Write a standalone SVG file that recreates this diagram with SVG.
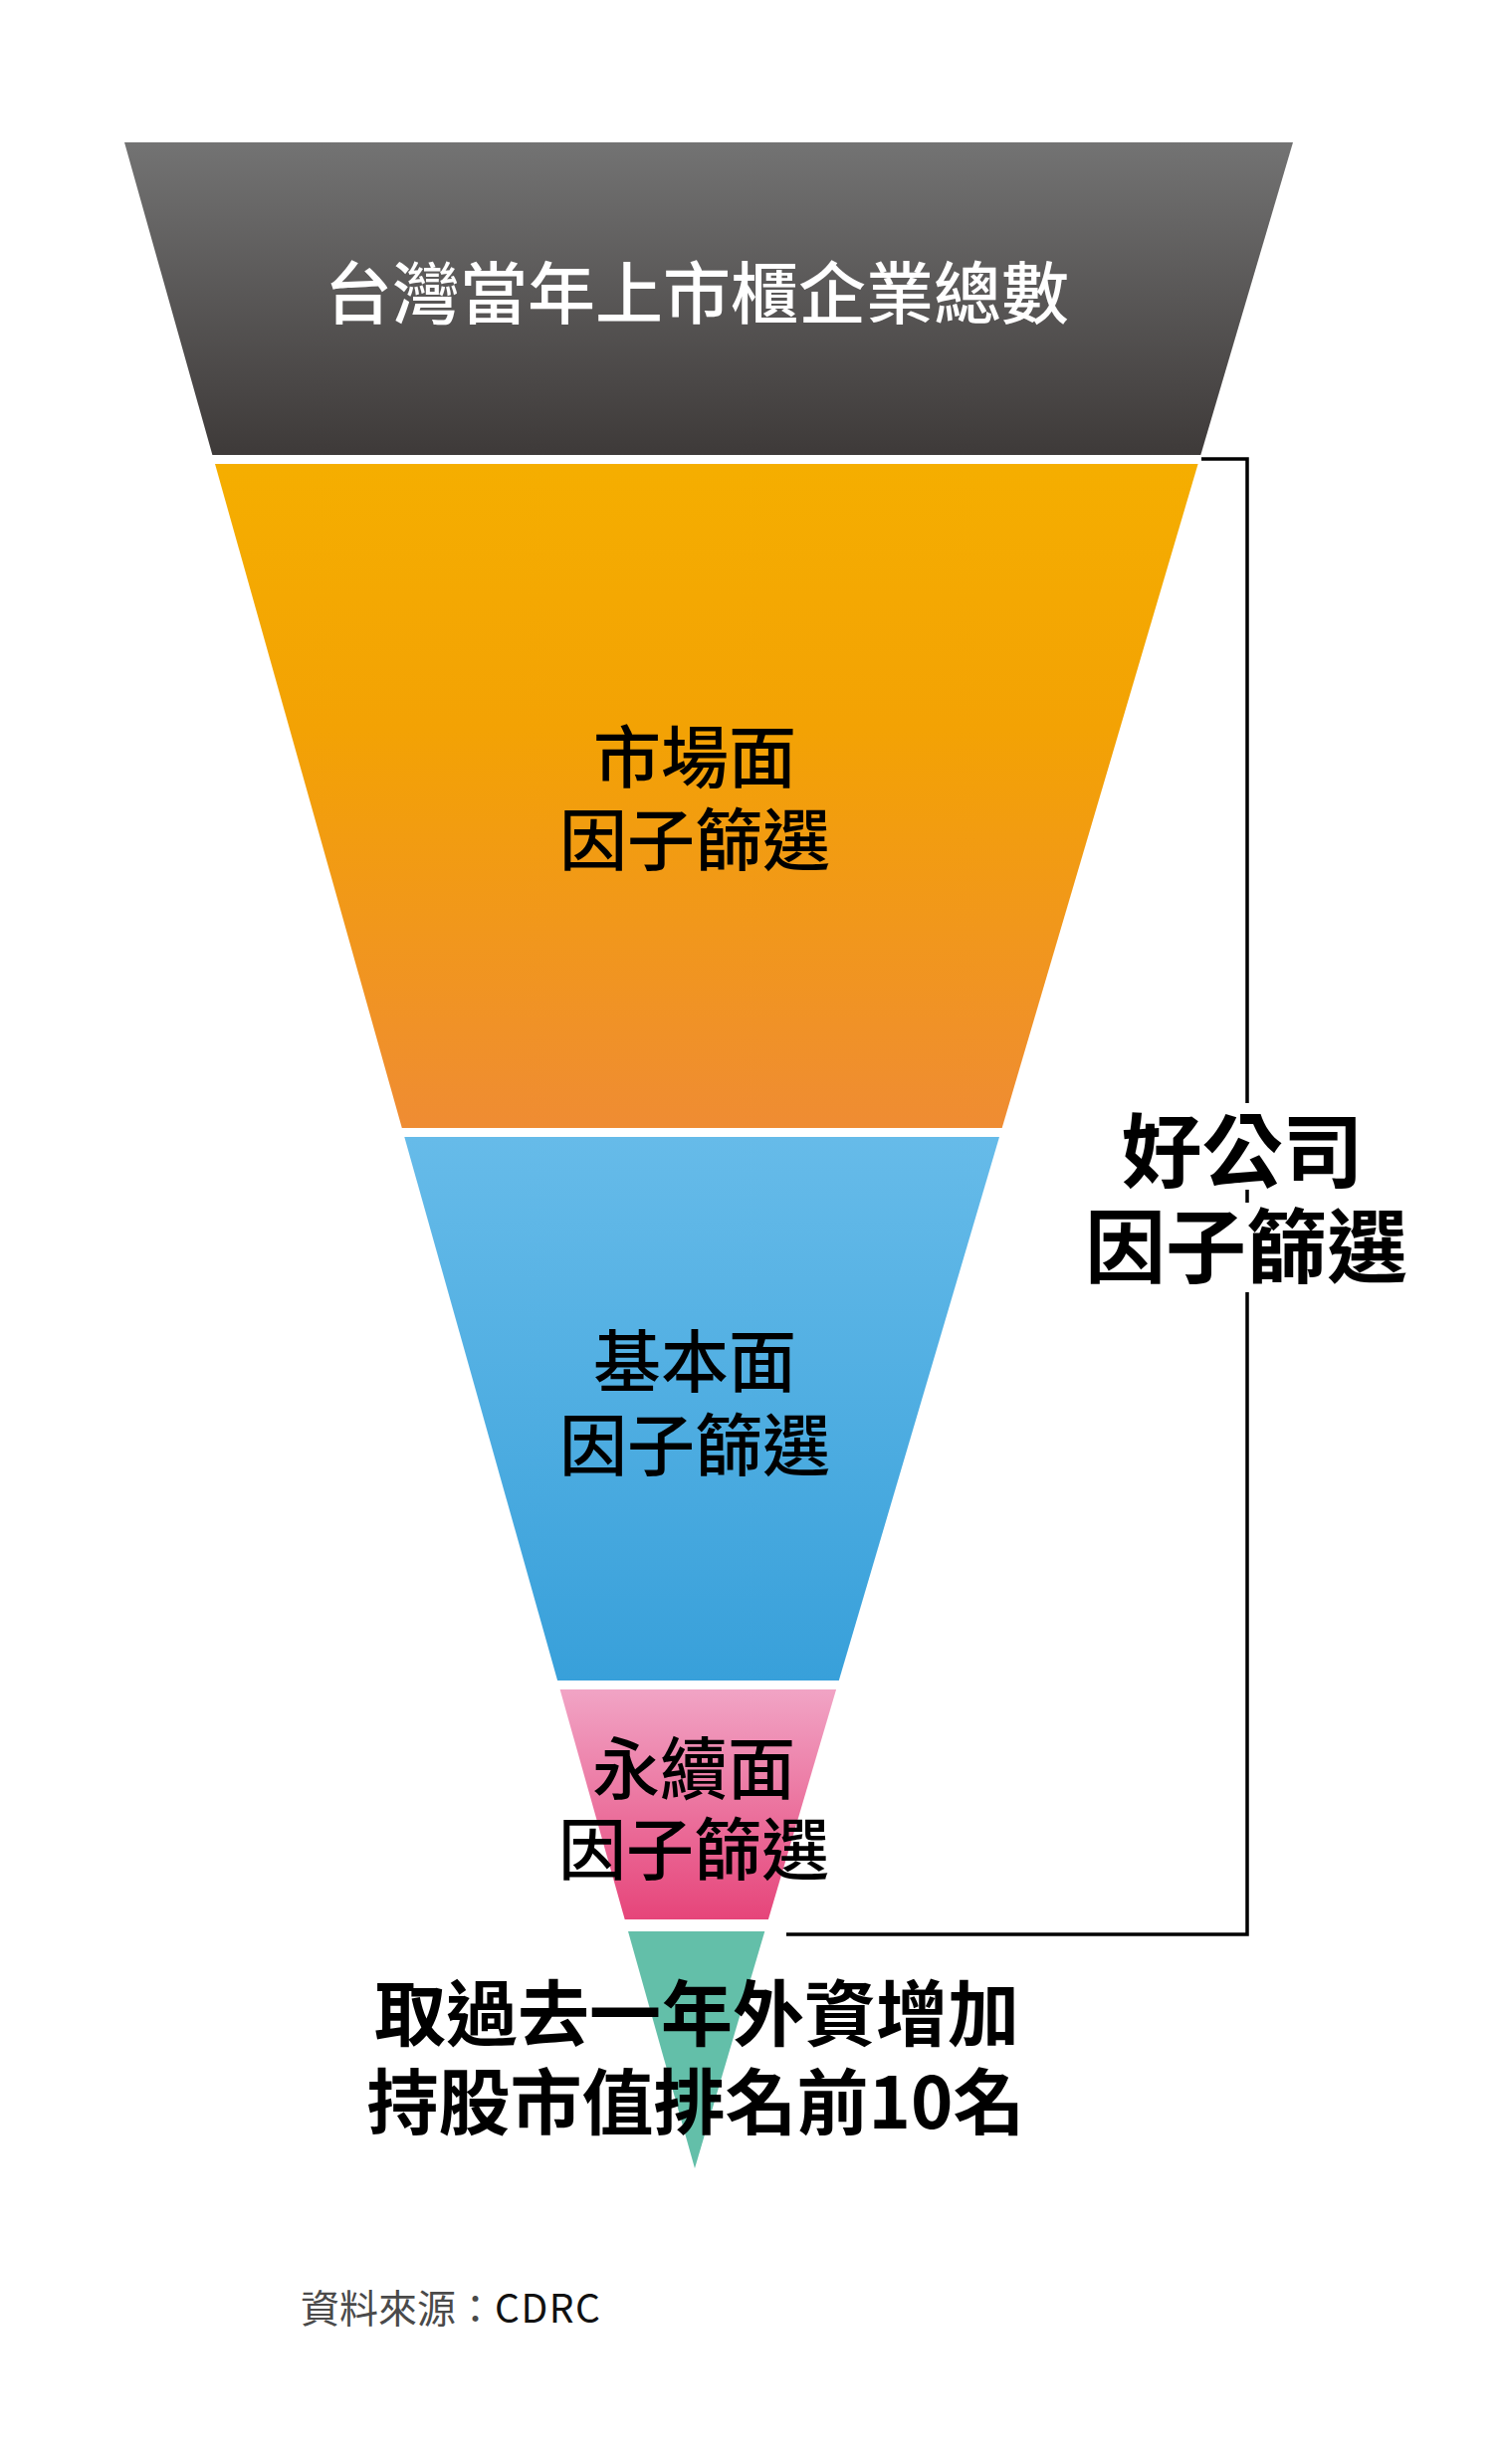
<svg xmlns="http://www.w3.org/2000/svg" width="1510" height="2475" viewBox="0 0 1510 2475">
  <defs>
    <linearGradient id="gDark" x1="0" y1="0" x2="0" y2="1">
      <stop offset="0" stop-color="#737373"/>
      <stop offset="1" stop-color="#3e3a39"/>
    </linearGradient>
    <linearGradient id="gOrange" x1="0" y1="0" x2="0" y2="1">
      <stop offset="0" stop-color="#f5ae00"/>
      <stop offset="0.4" stop-color="#f3a204"/>
      <stop offset="1" stop-color="#ef8c33"/>
    </linearGradient>
    <linearGradient id="gBlue" x1="0" y1="0" x2="0" y2="1">
      <stop offset="0" stop-color="#66bbe9"/>
      <stop offset="1" stop-color="#38a0da"/>
    </linearGradient>
    <linearGradient id="gPink" x1="0" y1="0" x2="0" y2="1">
      <stop offset="0" stop-color="#f1a4c5"/>
      <stop offset="1" stop-color="#e6457a"/>
    </linearGradient>
    <style>
      .lbl { font-family: "Noto Sans CJK TC", "Noto Sans CJK SC", sans-serif; text-anchor: middle; }
      .band { font-size: 68px; font-weight: 500; fill: #000; }
      .top { font-size: 68px; font-weight: 500; fill: #fff; }
      .big { font-size: 81px; font-weight: 700; fill: #000; }
      .res { font-size: 72px; font-weight: 700; fill: #000; }
      .src { font-family: "Noto Sans CJK TC", "Noto Sans CJK SC", sans-serif; font-size: 39px; fill: #4a4a4a; }
      .conn { fill: none; stroke: #000; stroke-width: 3.5; }
    </style>
  </defs>
  <rect width="1510" height="2475" fill="#fff"/>

  <g id="total">
    <polygon points="125,143 1299,143 1206.3,457 213.4,457" fill="url(#gDark)"/>
    <text class="lbl top" x="700" y="320">台灣當年上市櫃企業總數</text>
  </g>

  <g id="market">
    <polygon points="216,466 1203.6,466 1006.7,1133 403.8,1133" fill="url(#gOrange)"/>
    <text class="lbl band" x="698" y="786">市場面<tspan x="698" y="869">因子篩選</tspan></text>
  </g>

  <g id="fundamental">
    <polygon points="406.3,1142 1004,1142 842.8,1688 560.1,1688" fill="url(#gBlue)"/>
    <text class="lbl band" x="698" y="1393">基本面<tspan x="698" y="1477">因子篩選</tspan></text>
  </g>

  <g id="sustain">
    <polygon points="562.6,1697 840.1,1697 771.9,1928 627.7,1928" fill="url(#gPink)"/>
    <text class="lbl band" x="697" y="1802">永續面<tspan x="697" y="1883">因子篩選</tspan></text>
  </g>

  <g id="result">
    <polygon points="631,1940 768.3,1940 698,2178" fill="#63bfa9"/>
    <text class="lbl res" x="700" y="2049">取過去一年外資增加<tspan x="699" y="2138">持股市值排名前10名</tspan></text>
  </g>

  <g id="connectors">
    <path class="conn" d="M1207,461 H1253 V1108 M1253,1195 V1208 M1253,1298 V1943 H790"/>
  </g>

  <g id="goodco">
    <text class="lbl big" x="1248" y="1186">好公司<tspan x="1252" y="1282">因子篩選</tspan></text>
  </g>

  <g id="source">
    <text class="src" x="302" y="2333">資料來源：<tspan fill="#111" letter-spacing="1.5">CDRC</tspan></text>
  </g>
</svg>
